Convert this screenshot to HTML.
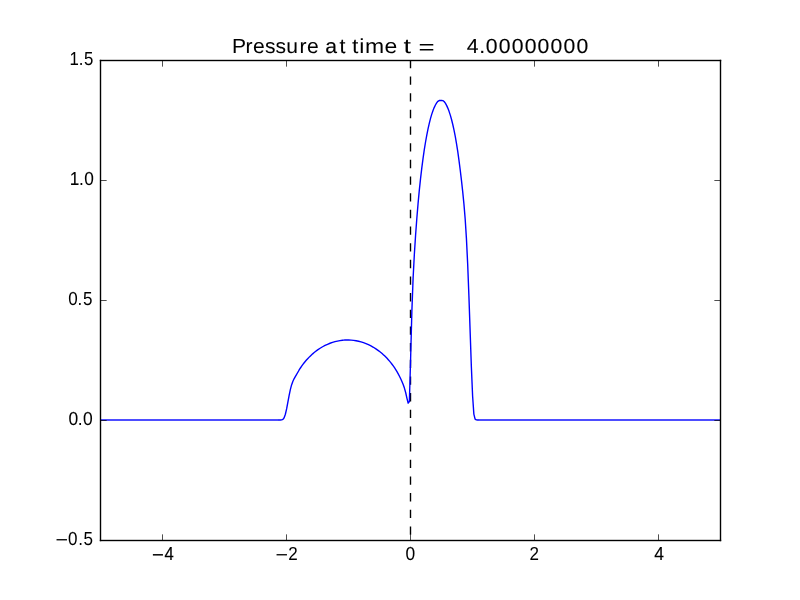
<!DOCTYPE html>
<html lang="en">
<head>
<meta charset="utf-8">
<title>Pressure at time t = 4.00000000</title>
<style>
html,body{margin:0;padding:0;background:#ffffff;}
body{width:800px;height:600px;overflow:hidden;font-family:"Liberation Sans",sans-serif;}
svg{display:block;position:absolute;left:0;top:0;will-change:transform;}
text{font-family:"Liberation Sans",sans-serif;fill:#000000;white-space:pre;text-rendering:geometricPrecision;}
</style>
</head>
<body>
<svg width="800" height="600" viewBox="0 0 800 600">
<defs><clipPath id="axclip"><rect x="100" y="60" width="620" height="480"/></clipPath></defs>
<rect x="0" y="0" width="800" height="600" fill="#ffffff"/>
<g clip-path="url(#axclip)" fill="none">
<path d="M410.5,59.8V540" stroke="#000000" stroke-width="1.389" stroke-dasharray="8.333 8.333"/>
<rect x="100" y="419.3055" width="178.00" height="1.389" fill="#0000ff"/>
<rect x="479.00" y="419.3055" width="241.00" height="1.389" fill="#0000ff"/>
<path d="M278.00,420.00 L279.18,419.99 L280.42,419.96 L281.66,419.85 L282.90,419.37 L284.14,417.71 L285.38,414.22 L286.62,408.91 L289.10,395.64 L290.34,389.65 L291.58,384.94 L292.82,381.46 L294.06,378.82 L295.30,376.57 L299.02,370.23 L300.26,368.24 L301.50,366.38 L302.74,364.65 L303.98,363.04 L305.22,361.51 L306.46,360.06 L307.70,358.69 L308.94,357.38 L310.18,356.14 L311.42,354.97 L312.66,353.85 L313.90,352.79 L315.14,351.78 L317.62,349.92 L320.10,348.25 L322.58,346.76 L325.06,345.44 L327.54,344.27 L330.02,343.25 L332.50,342.38 L334.98,341.65 L337.46,341.06 L339.94,340.60 L342.42,340.26 L343.66,340.13 L344.90,340.04 L348.62,340.03 L351.10,340.12 L353.58,340.36 L356.06,340.75 L358.54,341.26 L361.02,341.90 L363.50,342.68 L365.98,343.60 L368.46,344.68 L370.94,345.90 L373.42,347.28 L375.90,348.84 L378.38,350.58 L379.62,351.52 L380.86,352.51 L382.10,353.56 L383.34,354.66 L384.58,355.82 L385.82,357.04 L387.06,358.33 L388.30,359.69 L389.54,361.12 L390.78,362.63 L392.02,364.23 L393.26,365.93 L394.50,367.73 L395.74,369.64 L396.98,371.68 L398.22,373.88 L399.46,376.23 L400.70,378.76 L401.94,381.48 L403.18,384.50 L404.42,388.07 L405.66,392.52 L406.90,398.09 L408.14,403.19 L409.38,401.54 L410.62,358.50 L411.86,311.71 L413.10,278.21 L414.34,254.49 L415.58,235.28 L416.82,218.45 L418.06,203.58 L419.30,190.40 L420.54,178.63 L421.78,168.06 L423.02,158.54 L424.26,149.96 L425.50,142.24 L426.74,135.29 L427.98,129.08 L429.22,123.55 L430.46,118.67 L431.70,114.40 L432.94,110.73 L434.18,107.60 L435.42,104.98 L436.66,102.85 L437.90,101.29 L439.14,100.56 L440.38,100.46 L441.62,100.47 L442.86,100.64 L444.10,101.51 L445.34,103.15 L446.58,105.38 L447.82,108.12 L449.06,111.35 L450.30,115.13 L451.54,119.50 L452.78,124.49 L454.02,130.12 L455.26,136.45 L456.50,143.53 L457.74,151.46 L458.98,160.29 L460.22,169.99 L461.46,180.45 L462.70,191.67 L463.94,204.12 L465.18,219.06 L466.42,238.39 L467.66,263.84 L468.90,295.66 L471.38,367.13 L472.62,396.30 L473.86,414.09 L475.10,419.14 L476.34,419.87 L477.58,419.98 L479.00,420.00" stroke="#0000ff" stroke-width="1.389" stroke-linejoin="round"/>
</g>
<g fill="#000000">
<rect x="99.8055" y="59.8055" width="621.389" height="1.389"/>
<rect x="99.8055" y="539.8055" width="621.389" height="1.389"/>
<rect x="99.8055" y="59.8055" width="1.389" height="481.389"/>
<rect x="719.8055" y="59.8055" width="1.389" height="481.389"/>
</g>
<path d="M100.5,540.5v-5.650M100.5,60.5v5.650M162.5,540.5v-5.650M162.5,60.5v5.650M286.5,540.5v-5.650M286.5,60.5v5.650M410.5,540.5v-5.650M410.5,60.5v5.650M534.5,540.5v-5.650M534.5,60.5v5.650M658.5,540.5v-5.650M658.5,60.5v5.650M720.5,540.5v-5.650M720.5,60.5v5.650M100.5,60.5h5.650M720.5,60.5h-5.650M100.5,180.5h5.650M720.5,180.5h-5.650M100.5,300.5h5.650M720.5,300.5h-5.650M100.5,420.5h5.650M720.5,420.5h-5.650M100.5,540.5h5.650M720.5,540.5h-5.650" fill="none" stroke="#000000" stroke-width="0.694" stroke-linecap="square"/>
<g>
<text transform="scale(1.0306,1)" x="225.01 238.29 245.60 257.26 267.34 277.75 290.55 297.86" y="53.00" font-size="20.45" stroke="#000000" stroke-width="0.03">Pressure</text>
<text transform="scale(1.0363,1)" x="313.97 327.52" y="53.00" font-size="20.45" stroke="#000000" stroke-width="0.14">at</text>
<text transform="scale(1.1239,1)" x="313.10 319.76 324.84 342.02" y="53.00" font-size="20.45">time</text>
<text transform="scale(1.3212,1)" x="305.35" y="53.00" font-size="20.45">t</text>
<text transform="scale(1.3487,1)" x="310.38" y="54.00" font-size="20.45" stroke="#000000" stroke-width="0.05">=</text>
<text transform="scale(1.0358,1)" x="450.63 462.62 469.05 481.54 494.04 506.53 519.02 531.51 544.00 556.49" y="53.00" font-size="20.45" stroke="#000000" stroke-width="0.11">4.00000000</text>
<text transform="scale(0.8926,1)" x="77.80 88.16 94.21" y="65.00" font-size="18.81" stroke="#000000" stroke-width="0.02">1.5</text>
<text transform="scale(0.9163,1)" x="76.13 86.21 92.03" y="185.00" font-size="18.81" stroke="#000000" stroke-width="0.07">1.0</text>
<text transform="scale(0.9054,1)" x="75.46 85.62 91.62" y="305.00" font-size="18.81" stroke="#000000" stroke-width="0.01">0.5</text>
<text transform="scale(0.9288,1)" x="73.73 83.64 89.47" y="425.00" font-size="18.81" stroke="#000000" stroke-width="0.05">0.0</text>
<text transform="scale(0.9071,1)" y="545.00" font-size="18.81" stroke="#000000" stroke-width="0.02"><tspan x="61.14" dy="0.60" textLength="13.79" lengthAdjust="spacingAndGlyphs">−</tspan><tspan x="75.07 86.27 92.18" dy="-0.60">0.5</tspan></text>
<text transform="scale(0.8839,1)" y="560.00" font-size="18.81" stroke="#000000" stroke-width="0.21"><tspan x="171.83" dy="0.60" textLength="13.42" lengthAdjust="spacingAndGlyphs">−</tspan><tspan x="186.21" dy="-0.60">4</tspan></text>
<text transform="scale(0.9053,1)" y="560.00" font-size="18.81"><tspan x="304.46" dy="0.60" textLength="13.82" lengthAdjust="spacingAndGlyphs">−</tspan><tspan x="318.38" dy="-0.60">2</tspan></text>
<text transform="scale(0.9243,1)" x="438.72" y="560.00" font-size="18.81" stroke="#000000" stroke-width="0.05">0</text>
<text transform="scale(0.9045,1)" x="585.32" y="560.00" font-size="18.81">2</text>
<text transform="scale(0.9296,1)" x="703.86" y="560.00" font-size="18.81" stroke="#000000" stroke-width="0.13">4</text>
</g>
</svg>
</body>
</html>
